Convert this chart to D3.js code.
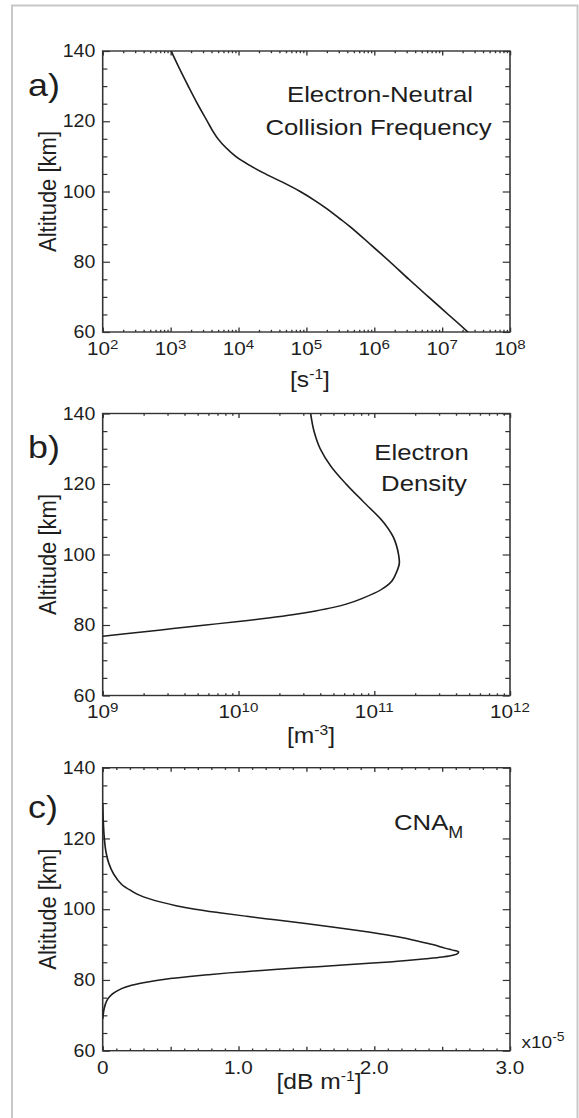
<!DOCTYPE html>
<html><head><meta charset="utf-8">
<script src="https://cdn.jsdelivr.net/npm/d3@7"></script>
<style>body{margin:0;background:#fff}svg{display:block}</style>
</head><body>
<svg id="chart" width="579" height="1118"></svg>
<script>
// ---------- data ----------
const altTicks = [60, 80, 100, 120, 140];
const altMinor = [65, 70, 75, 85, 90, 95, 105, 110, 115, 125, 130, 135];

// a) electron-neutral collision frequency [s^-1]
const altA = [60, 65, 70, 75, 80, 85, 90, 92.5, 95, 97.5, 100, 102.5, 105, 107.5, 110, 112.5, 115, 117.5, 120, 125, 130, 135, 140];
const nuA  = [2.4e7, 1.23e7, 6.3e6, 3.24e6, 1.70e6, 8.7e5, 4.4e5, 3.0e5, 2.04e5, 1.32e5, 8.1e4, 4.6e4, 2.5e4, 1.45e4, 9.1e3, 6.5e3, 5.0e3, 4.1e3, 3.47e3, 2.48e3, 1.82e3, 1.35e3, 1.02e3];
const xTicksA = [1e2, 1e3, 1e4, 1e5, 1e6, 1e7, 1e8];
const xExpA = ["2", "3", "4", "5", "6", "7", "8"];

// b) electron density [m^-3]
const altB = [76.8, 78, 79, 80, 81, 82, 83, 84, 85, 86, 87.5, 90, 92.5, 95, 97.5, 100, 102.5, 105, 107.5, 110, 115, 120, 125, 130, 135, 140];
const neB  = [1.0e9, 1.95e9, 3.3e9, 5.75e9, 1.0e10, 1.66e10, 2.57e10, 3.7e10, 5.0e10, 6.3e10, 8.1e10, 1.12e11, 1.35e11, 1.46e11, 1.53e11, 1.51e11, 1.46e11, 1.38e11, 1.26e11, 1.12e11, 8.3e10, 6.2e10, 4.8e10, 4.0e10, 3.6e10, 3.4e10];
const xTicksB = [1e9, 1e10, 1e11, 1e12];
const xExpB = ["9", "10", "11", "12"];

// c) CNA_M [dB m^-1] (x 1e-5)
const altC = [69, 70, 72, 74, 75, 76, 77, 78, 79, 80, 80.5, 81, 81.5, 82, 82.5, 83, 83.5, 84, 84.5, 85, 85.5, 86, 86.5, 87, 87.5, 88, 88.5, 89, 90, 91, 92, 93, 94, 95, 96, 97, 98, 99, 100, 101, 102, 103, 104, 105, 107, 110, 113, 116, 120, 125, 130];
const cnaC = [0, 0.003, 0.011, 0.028, 0.045, 0.07, 0.11, 0.17, 0.27, 0.42, 0.52, 0.64, 0.78, 0.93, 1.11, 1.29, 1.48, 1.69, 1.88, 2.08, 2.24, 2.38, 2.50, 2.58, 2.615, 2.62, 2.57, 2.52, 2.43, 2.32, 2.20, 2.05, 1.88, 1.69, 1.48, 1.27, 1.06, 0.86, 0.68, 0.54, 0.43, 0.34, 0.27, 0.22, 0.14, 0.08, 0.045, 0.025, 0.012, 0.004, 0];
const xTicksC = [0, 1, 2, 3];
const xLabelsC = ["0", "1.0", "2.0", "3.0"];
const xMidC = [0.5, 1.5, 2.5];

// ---------- layout ----------
const SX = 1.12; // horizontal stretch of original figure
const FONT = "'Liberation Sans', Arial, Helvetica, sans-serif";
const INK = "#1e1e1e";
const AXC = "#333";
const L = 102.7 / SX, R = 510 / SX;

const svg = d3.select("#chart");
svg.append("rect").attr("x", 12).attr("y", 5.5).attr("width", 565.5).attr("height", 1140)
  .attr("fill", "none").attr("stroke", "#c8c8c8").attr("stroke-width", 2);
const g = svg.append("g").attr("transform", `scale(${SX},1)`);

function styleAxis(sel) {
  sel.select(".domain").remove();
  sel.attr("font-family", FONT).attr("font-size", 17.5).attr("fill", null);
  sel.selectAll("line").attr("stroke", AXC).attr("stroke-width", 1.2);
  sel.selectAll("text").attr("fill", INK);
}

function drawPanel(p) {
  const y = d3.scaleLinear().domain([60, 140]).range([p.bot, p.top]);
  const x = p.x;
  const pg = g.append("g");

  pg.append("g").attr("transform", `translate(${L},0)`)
    .call(d3.axisLeft(y).tickValues(altTicks).tickSizeInner(-6.5).tickSizeOuter(0).tickPadding(6.6).tickFormat(d3.format("d")))
    .call(styleAxis);
  pg.append("g").attr("transform", `translate(${L},0)`)
    .call(d3.axisLeft(y).tickValues(altMinor).tickSizeInner(-4.2).tickSizeOuter(0).tickFormat(""))
    .call(styleAxis);
  pg.append("g").attr("transform", `translate(${R},0)`)
    .call(d3.axisRight(y).tickValues(altTicks).tickSizeInner(-6.5).tickSizeOuter(0).tickFormat(""))
    .call(styleAxis);
  pg.append("g").attr("transform", `translate(${R},0)`)
    .call(d3.axisRight(y).tickValues(altMinor).tickSizeInner(-4.2).tickSizeOuter(0).tickFormat(""))
    .call(styleAxis);

  [[p.bot, d3.axisBottom], [p.top, d3.axisTop]].forEach(([yy, fn]) => {
    pg.append("g").attr("transform", `translate(0,${yy})`)
      .call(fn(x).tickValues(p.major).tickSizeInner(-4.4).tickSizeOuter(0).tickFormat(""))
      .call(styleAxis);
    if (p.mid) pg.append("g").attr("transform", `translate(0,${yy})`)
      .call(fn(x).tickValues(p.mid).tickSizeInner(-4.0).tickSizeOuter(0).tickFormat(""))
      .call(styleAxis);
    pg.append("g").attr("transform", `translate(0,${yy})`)
      .call(fn(x).tickValues(p.minor).tickSizeInner(-2.2).tickSizeOuter(0).tickFormat(""))
      .call(styleAxis);
  });

  pg.append("rect").attr("x", L).attr("y", p.top).attr("width", R - L).attr("height", p.bot - p.top)
    .attr("fill", "none").attr("stroke", AXC).attr("stroke-width", 1.4);

  const lab = pg.append("g").attr("font-family", FONT).attr("fill", INK);
  p.major.forEach((v, i) => {
    const t = lab.append("text").attr("x", x(v)).attr("y", p.bot + 23).attr("text-anchor", "middle").attr("font-size", 18.5);
    if (p.exps) {
      t.append("tspan").text("10");
      t.append("tspan").attr("font-size", 13.5).attr("dy", -6).text(p.exps[i]);
    } else {
      t.text(p.labels[i]);
    }
  });

  const clipId = "clip" + p.id;
  pg.append("clipPath").attr("id", clipId).append("rect")
    .attr("x", L).attr("y", p.top).attr("width", R - L).attr("height", p.bot - p.top);
  const line = d3.line().x(d => x(d[1])).y(d => y(d[0])).curve(d3.curveCatmullRom.alpha(0.5));
  pg.append("path").datum(d3.zip(p.alt, p.val)).attr("d", line)
    .attr("clip-path", `url(#${clipId})`)
    .attr("fill", "none").attr("stroke", INK).attr("stroke-width", 1.5);

  lab.append("text").attr("transform", `translate(${56 / SX},${(p.top + p.bot) / 2}) rotate(-90)`)
    .attr("text-anchor", "middle").attr("font-size", 22).text("Altitude [km]");
  lab.append("text").attr("x", 28 / SX).attr("y", p.letterY).attr("font-size", 32).text(p.letter);
  return lab;
}

// panel a
const xA = d3.scaleLog().domain([1e2, 1e8]).range([L, R]);
const labA = drawPanel({
  id: "a", x: xA, top: 51, bot: 332, major: xTicksA, exps: xExpA,
  minor: xA.ticks().filter(v => !xTicksA.includes(v)),
  alt: altA, val: nuA, letter: "a)", letterY: 96.5
});
labA.append("text").attr("x", 380 / SX).attr("y", 102.5).attr("text-anchor", "middle").attr("font-size", 23).text("Electron-Neutral");
labA.append("text").attr("x", 378.5 / SX).attr("y", 135).attr("text-anchor", "middle").attr("font-size", 23).text("Collision Frequency");
{
  const t = labA.append("text").attr("x", 310 / SX).attr("y", 387).attr("text-anchor", "middle").attr("font-size", 22);
  t.append("tspan").text("[s");
  t.append("tspan").attr("font-size", 14).attr("dy", -8).text("-1");
  t.append("tspan").attr("dy", 8).text("]");
}

// panel b
const xB = d3.scaleLog().domain([1e9, 1e12]).range([L, R]);
const labB = drawPanel({
  id: "b", x: xB, top: 413.5, bot: 695.5, major: xTicksB, exps: xExpB,
  minor: xB.ticks().filter(v => !xTicksB.includes(v)),
  alt: altB, val: neB, letter: "b)", letterY: 458
});
labB.append("text").attr("x", 421.5 / SX).attr("y", 460).attr("text-anchor", "middle").attr("font-size", 23).text("Electron");
labB.append("text").attr("x", 424 / SX).attr("y", 491).attr("text-anchor", "middle").attr("font-size", 23).text("Density");
{
  const t = labB.append("text").attr("x", 311 / SX).attr("y", 743).attr("text-anchor", "middle").attr("font-size", 22);
  t.append("tspan").text("[m");
  t.append("tspan").attr("font-size", 14).attr("dy", -8).text("-3");
  t.append("tspan").attr("dy", 8).text("]");
}

// panel c
const xC = d3.scaleLinear().domain([0, 3]).range([L, R]);
const labC = drawPanel({
  id: "c", x: xC, top: 767.7, bot: 1050.7, major: xTicksC, labels: xLabelsC, mid: xMidC,
  minor: d3.range(0, 31).map(i => i / 10).filter(v => !xTicksC.includes(v) && !xMidC.includes(v)),
  alt: altC, val: cnaC, letter: "c)", letterY: 818
});
{
  const t = labC.append("text").attr("x", 394 / SX).attr("y", 830).attr("font-size", 23);
  t.append("tspan").text("CNA");
  t.append("tspan").attr("font-size", 16).attr("dy", 8).text("M");
}
{
  const t = labC.append("text").attr("x", 319 / SX).attr("y", 1089).attr("text-anchor", "middle").attr("font-size", 22);
  t.append("tspan").text("[dB m");
  t.append("tspan").attr("font-size", 14).attr("dy", -8).text("-1");
  t.append("tspan").attr("dy", 8).text("]");
}
{
  const t = labC.append("text").attr("x", 521.5 / SX).attr("y", 1048).attr("font-size", 17);
  t.append("tspan").text("x10");
  t.append("tspan").attr("font-size", 12.5).attr("dy", -7).text("-5");
}
</script>
</body></html>
